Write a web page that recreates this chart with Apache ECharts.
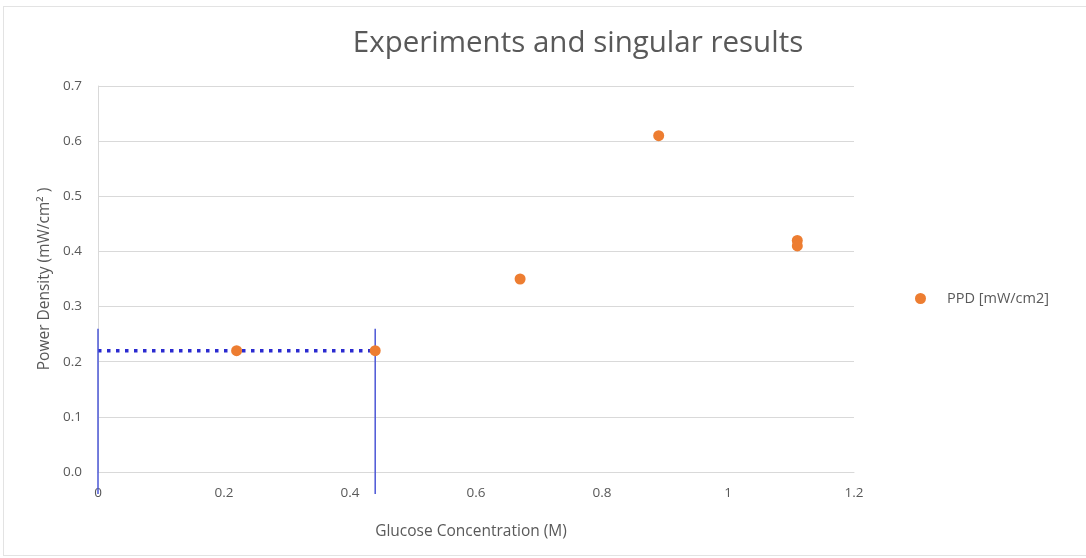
<!DOCTYPE html>
<html>
<head>
<meta charset="utf-8">
<script src="https://cdn.jsdelivr.net/npm/echarts@6/dist/echarts.min.js"></script>
<style>
  html, body { margin: 0; padding: 0; background: #fff; }
  #frame { position: absolute; left: 3px; top: 6px; width: 1083px; height: 550px;
           border-left: 1px solid #e3e3e3; border-top: 1px solid #e3e3e3; border-bottom: 1px solid #e3e3e3; box-sizing: border-box; }
  #chart { position: absolute; left: 0; top: 0; width: 1086px; height: 558px; }
</style>
</head>
<body>
<div id="frame"></div>
<div id="chart"></div>
<script>
// Glucose concentration (M) vs peak power density (mW/cm2)
const glucose = [0.22, 0.44, 0.67, 0.89, 1.11, 1.11];
const powerDensity = [0.22, 0.22, 0.35, 0.61, 0.42, 0.41];

// Reference guides: horizontal level and the two bracketing concentrations
const guideLevel = 0.22;
const guideX = [0, 0.44];
const guideTop = 0.26;
const guideBottom = -0.04;

const xTicks = [0, 0.2, 0.4, 0.6, 0.8, 1, 1.2];
const yTicks = [0, 0.1, 0.2, 0.3, 0.4, 0.5, 0.6, 0.7];

const font = "'Open Sans', 'Liberation Sans', sans-serif";
const textColor = '#595959';

const chart = echarts.init(document.getElementById('chart'), null, { renderer: 'canvas' });

const guideSeries = guideX.map(x => ({
  type: 'line',
  data: [[x, guideTop], [x, guideBottom]],
  symbol: 'none',
  clip: false,
  silent: true,
  lineStyle: { color: '#4b57d6', width: 1.5 },
  z: 3
}));

chart.setOption({
  animation: false,
  title: {
    text: 'Experiments and singular results',
    left: 573,
    textAlign: 'center',
    top: 24,
    textStyle: { fontFamily: font, fontSize: 29.5, fontWeight: 'normal', color: textColor }
  },
  legend: {
    data: ['PPD [mW/cm2]'],
    left: 910,
    top: 286,
    icon: 'circle',
    itemWidth: 11,
    itemHeight: 11,
    itemGap: 10,
    textStyle: { fontFamily: font, fontSize: 14.5, color: textColor, padding: [0, 0, 0, 16] }
  },
  grid: { left: 98, right: 232, top: 86, bottom: 86 },
  xAxis: {
    type: 'value',
    min: xTicks[0],
    max: xTicks[xTicks.length - 1],
    interval: 0.2,
    name: 'Glucose Concentration (M)',
    nameLocation: 'middle',
    nameGap: 52,
    nameTextStyle: { fontFamily: font, fontSize: 15.5, color: textColor, padding: [0, 10, 0, 0] },
    axisLine: { show: true, onZero: false, lineStyle: { color: '#d9d9d9' } },
    axisTick: { show: false },
    splitLine: { show: false },
    axisLabel: {
      fontFamily: font, fontSize: 13.5, color: textColor, margin: 14,
      formatter: v => String(+v.toFixed(1))
    }
  },
  yAxis: {
    type: 'value',
    min: yTicks[0],
    max: yTicks[yTicks.length - 1],
    interval: 0.1,
    name: 'Power Density (mW/cm² )',
    nameLocation: 'middle',
    nameGap: 45,
    nameTextStyle: { fontFamily: font, fontSize: 15.5, color: textColor },
    axisLine: { show: true, lineStyle: { color: '#d9d9d9' } },
    axisTick: { show: false },
    splitLine: { show: true, lineStyle: { color: '#d9d9d9', width: 1 } },
    axisLabel: {
      fontFamily: font, fontSize: 13.5, color: textColor, margin: 16,
      formatter: v => v.toFixed(1)
    }
  },
  series: [
    {
      type: 'line',
      data: guideX.map(x => [x, guideLevel]),
      symbol: 'none',
      silent: true,
      lineStyle: { color: '#2a2ad0', width: 3.5, type: [3.5, 5.5] },
      z: 3
    },
    ...guideSeries,
    {
      name: 'PPD [mW/cm2]',
      type: 'scatter',
      data: glucose.map((g, i) => [g, powerDensity[i]]),
      symbol: 'circle',
      symbolSize: 11,
      itemStyle: { color: '#ed7d31', opacity: 1 },
      z: 5
    }
  ]
});
</script>
</body>
</html>
